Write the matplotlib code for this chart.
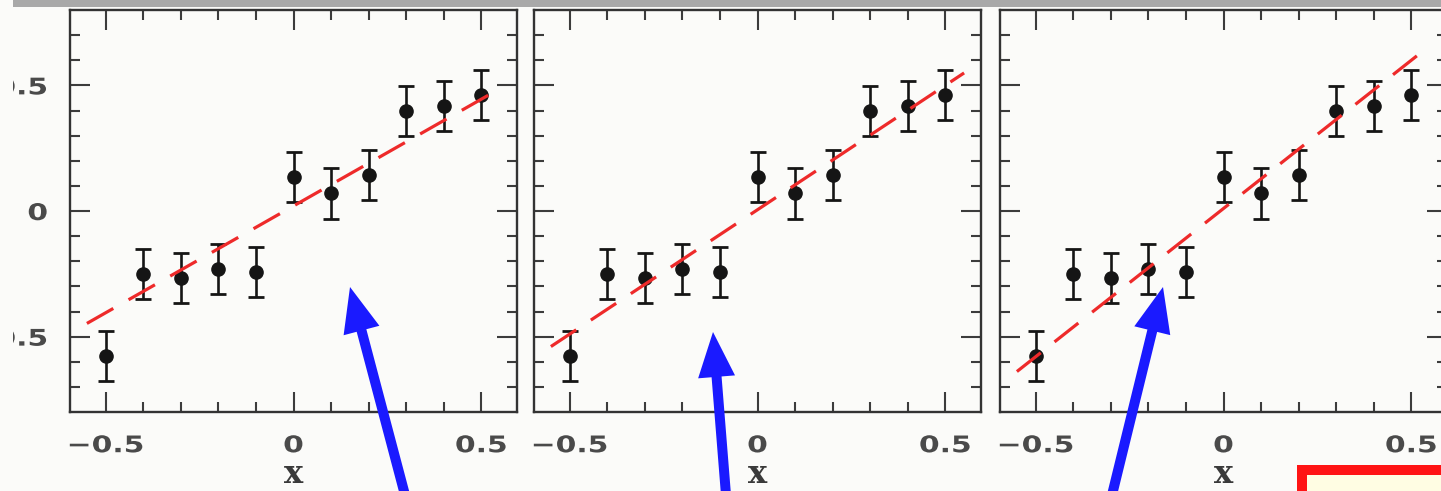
import numpy as np
import matplotlib
matplotlib.use('Agg')
import matplotlib.pyplot as plt
from matplotlib.patches import Rectangle, FancyArrowPatch
from matplotlib.patheffects import AbstractPathEffect
from matplotlib.transforms import Affine2D

# data points (same in all three panels)
x_vals = [-0.5, -0.4, -0.3, -0.2, -0.1, 0.0, 0.1, 0.2, 0.3, 0.4, 0.5]
y_vals = [-0.578, -0.250, -0.268, -0.230, -0.243, 0.135, 0.070, 0.143, 0.397, 0.417, 0.462]
y_err = [0.1] * 11

# trial straight lines: too shallow, best fit, too steep
fit_slopes = [0.85, 0.99, 1.18]
fit_intercepts = [0.02, 0.005, 0.01]
fit_x = [-0.55, 0.55]

tick_vals = [-0.5, 0.0, 0.5]
tick_labels = ['\u22120.5', '0', '0.5']

W, H = 1441, 491
bg = '#fbfbf9'


class Stretch(AbstractPathEffect):
    """widen glyphs horizontally (the slide font is very wide)"""
    def __init__(self, sx, anchor='center'):
        super().__init__()
        self.sx = sx
        self.anchor = anchor

    def draw_path(self, renderer, gc, tpath, affine, rgbFace=None):
        ext = tpath.get_extents(affine)
        cx = ext.x1 if self.anchor == 'right' else 0.5 * (ext.x0 + ext.x1)
        affine = affine + Affine2D().translate(-cx, 0).scale(self.sx, 1).translate(cx, 0)
        renderer.draw_path(gc, tpath, affine, rgbFace)


def fx(p):
    return p / W


def fy(p):
    return 1 - p / H


fig = plt.figure(figsize=(W / 100, H / 100), dpi=100, facecolor=bg)

lefts = [70, 534, 1000]
for i, l in enumerate(lefts):
    ax = fig.add_axes([fx(l), fy(412), 447 / W, 402 / H])
    ax.set_facecolor(bg)
    ax.errorbar(x_vals, y_vals, yerr=y_err, fmt='o', color='#151515', ms=9.5,
                elinewidth=1.9, capsize=6, capthick=2.0, zorder=2)
    xx = np.array(fit_x)
    ax.plot(xx, fit_intercepts[i] + fit_slopes[i] * xx, color='#ee2a2a', lw=2.3,
            dashes=(9.5, 5.5), zorder=3)
    ax.set_xlim(-0.595, 0.595)
    ax.set_ylim(-0.8, 0.8)
    ax.set_xticks(tick_vals)
    ax.set_xticklabels(tick_labels)
    ax.set_yticks(tick_vals)
    ax.set_yticklabels(tick_labels)
    ax.set_xticks(np.round(np.arange(-0.5, 0.51, 0.1), 1), minor=True)
    ax.set_yticks(np.round(np.arange(-0.7, 0.71, 0.1), 1), minor=True)
    ax.tick_params(which='both', direction='in', top=True, right=True,
                   color='#3c3c3c', width=1.5, labelsize=16.5, labelcolor='#4a4a4a')
    ax.tick_params(which='major', length=14.4)
    ax.tick_params(which='minor', length=7.2)
    ax.tick_params(axis='x', pad=16)
    ax.tick_params(axis='y', pad=16)
    if i > 0:
        ax.tick_params(axis='y', labelleft=False)
    for s in ax.spines.values():
        s.set_linewidth(1.7)
        s.set_color('#333333')
    ax.set_xlabel('x', fontfamily='DejaVu Serif', fontweight='bold', fontsize=23,
                  color='#3a3a3a', labelpad=1.5)
    for lab in ax.get_xticklabels():
        lab.set_fontweight('bold')
        lab.set_path_effects([Stretch(1.3)])
    for lab in ax.get_yticklabels():
        lab.set_fontweight('bold')
        lab.set_path_effects([Stretch(1.3, 'right')])

# slide decorations: grey bar on top, white strip on the left
fig.add_artist(Rectangle((fx(13), fy(7)), 1, 7 / H, transform=fig.transFigure,
                         color='#a9a9a9', lw=0, zorder=10))
fig.add_artist(Rectangle((0, 0), fx(13), 1, transform=fig.transFigure,
                         color=bg, lw=0, zorder=11))

# red framed box, bottom right
fig.add_artist(Rectangle((fx(1302), -0.2), 0.3, fy(470) + 0.2, transform=fig.transFigure,
                         edgecolor='#ff1414', facecolor='#fffde3', lw=7.2, zorder=10))

# blue arrows pointing at the lines
arrows = [((405, 495), (350, 287)), ((726, 495), (713, 332)), ((1112, 495), (1163, 287))]
for (x0, y0), (x1, y1) in arrows:
    fig.add_artist(FancyArrowPatch((fx(x0), fy(y0)), (fx(x1), fy(y1)),
                                   transform=fig.transFigure,
                                   arrowstyle='simple,head_length=45,head_width=37,tail_width=10',
                                   mutation_scale=0.72, color='#1a1aff', lw=0,
                                   shrinkA=0, shrinkB=0, zorder=12))

fig.savefig('out.png', dpi=100, facecolor=bg)
